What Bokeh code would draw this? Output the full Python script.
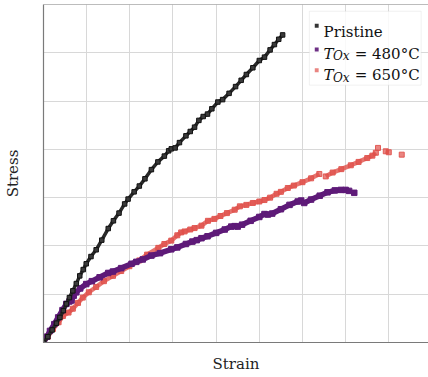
import math
from bokeh.plotting import figure
from bokeh.models import Span, Label, BoxAnnotation, FixedTicker
from bokeh.embed import file_html
from bokeh.resources import INLINE

NaN = float("nan")

# Pristine
pristine_strain = [0, 0.1, 0.2, 0.3, 0.38, 0.46, 0.53, 0.6, 0.68, 0.76, 0.84, 0.92, 0.99, 1.1, 1.22,
                   1.35, 1.5, 1.62, 1.75, 1.88, 1.96, 2.1, 2.22, 2.35, 2.5, 2.65, 2.8, 2.9, 2.96, 3.05,
                   3.15, 3.3, 3.4, 3.5, 3.6, 3.7, 3.8, 3.9, 4.04, 4.15, 4.3, 4.45, 4.58, 4.7, 4.85,
                   5.0, 5.12, 5.25, 5.35, 5.45, 5.54]
pristine_stress = [0, 0.12, 0.26, 0.40, 0.52, 0.66, 0.80, 0.93, 1.07, 1.22, 1.38, 1.51, 1.63, 1.78, 1.92,
                   2.12, 2.36, 2.52, 2.68, 2.87, 2.97, 3.12, 3.24, 3.39, 3.58, 3.74, 3.86, 3.97, 4.01, 4.03,
                   4.14, 4.28, 4.37, 4.46, 4.60, 4.68, 4.73, 4.84, 4.98, 5.03, 5.16, 5.30, 5.43, 5.55, 5.69,
                   5.84, 5.91, 6.06, 6.17, 6.28, 6.37]

# T_Ox = 480 C (NaN marks a gap in the record)
t480_strain = [0, 0.08, 0.15, 0.25, 0.34, 0.44, 0.53, 0.6, 0.65, 0.7, 0.76, 0.85, 0.99, 1.12, 1.3,
               1.5, 1.61, 1.8, 2.04, 2.15, 2.3, 2.5, 2.7, 2.96, 3.1, 3.3, 3.45, 3.55, 3.66, 3.8,
               4.0, 4.2, 4.35, 4.43, 4.5, 4.6, 4.8, 5.0, 5.12, 5.2, 5.3, 5.5, 5.7, 5.89, 5.97,
               NaN, 6.04, 6.2, 6.4, 6.58, 6.75, 6.89, 7.0, 7.08, NaN, 7.2]
t480_stress = [0, 0.12, 0.24, 0.38, 0.52, 0.67, 0.80, 0.85, 0.87, 0.97, 1.04, 1.12, 1.21, 1.27, 1.35,
               1.44, 1.47, 1.54, 1.63, 1.67, 1.72, 1.80, 1.85, 1.93, 1.97, 2.04, 2.09, 2.12, 2.16, 2.20,
               2.27, 2.34, 2.40, 2.41, 2.40, 2.44, 2.52, 2.60, 2.66, 2.65, 2.67, 2.76, 2.85, 2.92, 2.94,
               NaN, 2.89, 2.96, 3.04, 3.11, 3.15, 3.16, 3.16, 3.14, NaN, 3.10]

# T_Ox = 650 C
t650_strain = [0, 0.1, 0.22, 0.35, 0.45, 0.58, 0.68, 0.8, 0.91, 1.05, 1.22, 1.4, 1.61, 1.8, 1.99,
               2.22, 2.4, 2.66, 2.8, 2.96, 3.1, 3.19, 3.27, 3.4, 3.5, 3.66, 3.81, 3.96, 4.1, 4.25,
               4.43, 4.55, 4.7, 4.85, 5.0, 5.12, 5.25, 5.4, 5.5, 5.66, 5.8, 6.0, 6.2, 6.39,
               NaN, 6.54, 6.7, 6.9, 7.12, 7.3, 7.5, 7.62, 7.70, NaN, 7.75, NaN, 7.93, 8.0, NaN, 8.30]
t650_stress = [0, 0.12, 0.28, 0.42, 0.55, 0.62, 0.70, 0.82, 0.93, 1.04, 1.15, 1.27, 1.38, 1.48, 1.58,
               1.70, 1.82, 1.96, 2.04, 2.11, 2.22, 2.28, 2.30, 2.34, 2.37, 2.42, 2.52, 2.56, 2.62, 2.68,
               2.75, 2.82, 2.85, 2.89, 2.92, 2.95, 3.00, 3.08, 3.12, 3.20, 3.25, 3.32, 3.40, 3.49,
               NaN, 3.44, 3.52, 3.59, 3.67, 3.74, 3.82, 3.87, 3.93, NaN, 4.03, NaN, 3.96, 3.94, NaN, 3.89]

series_labels = ["Pristine", "480°C", "650°C"]
x_ticks = [0, 1, 2, 3, 4, 5, 6, 7, 8]
y_ticks = [0, 1, 2, 3, 4, 5, 6, 7]

BLACK = "#1e1e1e"
PURPLE = "#5e1a78"
RED = "#e0514b"
SERIF = "DejaVu Serif"

X_END = 8.92
Y_END = 7

p = figure(width=428, height=377, output_backend="svg", toolbar_location=None,
           x_range=(0, X_END), y_range=(0, Y_END),
           min_border_left=42, min_border_right=0, min_border_top=4, min_border_bottom=35)
p.outline_line_color = None
p.background_fill_color = "white"
p.border_fill_color = "white"

for ax, ticks in ((p.xaxis, x_ticks), (p.yaxis, y_ticks)):
    ax.ticker = FixedTicker(ticks=ticks)
    ax.major_label_overrides = {t: "" for t in ticks}
    ax.major_label_standoff = 0
    ax.major_tick_line_color = None
    ax.minor_tick_line_color = None
    ax.axis_line_color = "#7a7a7a"
    ax.axis_line_width = 1.2
    ax.axis_label_text_font = SERIF
    ax.axis_label_text_font_size = "15px"
    ax.axis_label_text_font_style = "normal"
    ax.axis_label_text_color = "#222222"

p.xaxis.axis_label = "Strain"
p.yaxis.axis_label = "Stress"
p.xaxis.axis_label_standoff = 6
p.yaxis.axis_label_standoff = 16

p.xgrid.ticker = FixedTicker(ticks=x_ticks)
p.ygrid.ticker = FixedTicker(ticks=y_ticks)
p.grid.grid_line_color = "#d8d8d8"
p.grid.grid_line_width = 1

p.add_layout(Span(location=Y_END, dimension="width", line_color="#7a7a7a", line_width=1.2))

# 650 C
p.line(t650_strain, t650_stress, line_color=RED, line_width=4.5, line_alpha=0.8)
p.scatter(t650_strain, t650_stress, marker="square", size=5, fill_color=RED, fill_alpha=0.7,
          line_color=RED, line_alpha=0.9)
# 480 C
p.line(t480_strain, t480_stress, line_color=PURPLE, line_width=5.5)
p.scatter(t480_strain, t480_stress, marker="square", size=5.5, fill_color=PURPLE,
          line_color=PURPLE)
# Pristine
p.line(pristine_strain, pristine_stress, line_color="#2a2a2a", line_width=3.5)
p.scatter(pristine_strain, pristine_stress, marker="square", size=4.5, fill_color="#3a3a3a",
          line_color="#111111")

# Legend (box, swatches, texts)
p.add_layout(BoxAnnotation(left=6.16, right=8.75, bottom=5.33, top=6.86,
                           fill_color="white", fill_alpha=0.85,
                           line_color="#cfcfcf", line_width=1))
sw_x = 6.33
for yc, col in ((6.56, BLACK), (6.07, PURPLE), (5.64, RED)):
    p.add_layout(BoxAnnotation(left=sw_x - 0.045, right=sw_x + 0.045,
                               bottom=yc - 0.042, top=yc + 0.042,
                               fill_color=col, fill_alpha=0.9 if col != RED else 0.7,
                               line_color=None))

tx = 6.49
p.add_layout(Label(x=tx, y=6.43, text=series_labels[0], text_font=SERIF,
                   text_font_size="15px", text_color="#111111", text_baseline="alphabetic"))
for base, lab in ((5.98, series_labels[1]), (5.53, series_labels[2])):
    p.add_layout(Label(x=tx, y=base, text="T", text_font=SERIF, text_font_style="italic",
                       text_font_size="15px", text_color="#111111", text_baseline="alphabetic"))
    p.add_layout(Label(x=tx + 0.215, y=base - 0.045, text="Ox", text_font=SERIF,
                       text_font_style="italic", text_font_size="12px", text_color="#111111",
                       text_baseline="alphabetic"))
    p.add_layout(Label(x=7.21, y=base, text="= " + lab, text_font=SERIF,
                       text_font_size="15px", text_color="#111111", text_baseline="alphabetic"))

open("out.html", "w").write(file_html(p, INLINE))
